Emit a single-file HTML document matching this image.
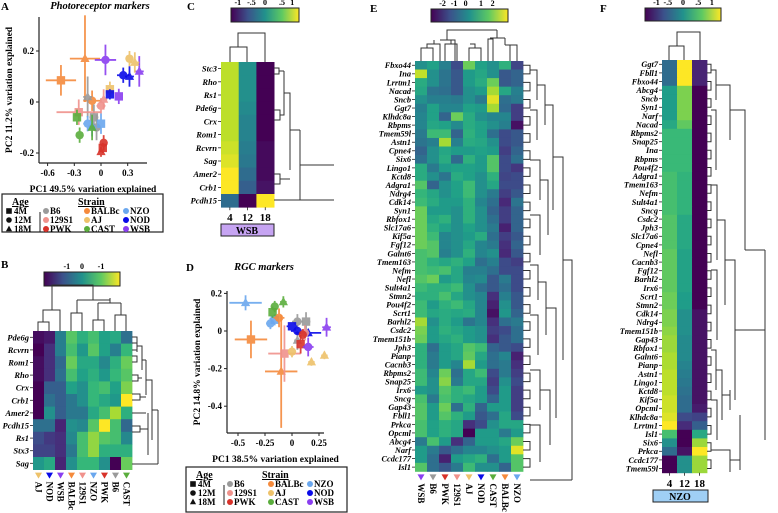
<!DOCTYPE html>
<html><head><meta charset="utf-8"><style>
html,body{margin:0;padding:0;background:#fff;}
svg{display:block;font-family:"Liberation Serif",serif;font-weight:bold;}
</style></head><body>
<svg id="fig" width="778" height="513" viewBox="0 0 778 513" xmlns="http://www.w3.org/2000/svg">
<defs>
<linearGradient id="vir" x1="0" x2="1" y1="0" y2="0">
<stop offset="0" stop-color="#440154"/><stop offset="0.25" stop-color="#3b528b"/><stop offset="0.5" stop-color="#21918c"/><stop offset="0.75" stop-color="#5ec962"/><stop offset="1" stop-color="#fde725"/>
</linearGradient>
</defs>
<g id="root"></g>
</svg>
<script>
// ---------- DATA ----------
const strainColors = {B6:'#9a9a9a','129S1':'#f0928c',PWK:'#d8322a',BALBc:'#f58a3c',AJ:'#eec26a',CAST:'#5aad3c',NZO:'#6aa7ee',NOD:'#0a0ae8',WSB:'#8a3ef0'};

// Panel A points
const aStrain = ['BALBc','BALBc','BALBc','WSB','WSB','WSB','AJ','AJ','AJ','NOD','NOD','NOD','B6','B6','B6','129S1','129S1','129S1','NZO','NZO','NZO','CAST','CAST','CAST','PWK','PWK','PWK'];
const aAge    = ['4M','18M','12M','12M','4M','18M','12M','18M','4M','12M','18M','4M','18M','4M','12M','4M','12M','18M','12M','4M','18M','4M','12M','18M','12M','18M','4M'];
const aPC1    = [-0.45,-0.18,-0.10,0.05,0.20,0.43,0.32,0.38,0.10,0.25,0.32,0.10,-0.15,-0.08,-0.05,-0.25,0.00,0.03,-0.15,0.00,-0.10,-0.27,-0.24,-0.10,0.03,0.00,0.02];
const aPC2    = [0.085,0.17,0.005,0.165,0.022,0.12,0.17,0.155,0.05,0.105,0.10,0.03,0.02,-0.06,-0.10,-0.04,-0.015,0.01,-0.085,-0.085,-0.095,-0.06,-0.13,-0.10,-0.16,-0.195,-0.18];
const aErrX   = [0.17,0.17,0.10,0.12,0.03,0.05,0.03,0.05,0.03,0.07,0.05,0.03,0.05,0.05,0.04,0.25,0.05,0.04,0.05,0.04,0.04,0.03,0.03,0.03,0.03,0.03,0.02];
const aErrY   = [0.06,0.17,0.04,0.06,0.03,0.06,0.03,0.04,0.03,0.03,0.04,0.02,0.08,0.05,0.05,0.05,0.03,0.04,0.03,0.04,0.04,0.03,0.03,0.05,0.03,0.02,0.02];
const aXTicks = [-0.6,-0.3,0,0.3];
const aYTicks = [-0.2,0,0.2];

// Panel D points
const dStrain = ['NZO','NZO','NZO','CAST','CAST','CAST','BALBc','BALBc','BALBc','B6','B6','B6','NOD','NOD','NOD','129S1','129S1','PWK','PWK','WSB','WSB','AJ','AJ','AJ'];
const dAge    = ['18M','12M','4M','18M','12M','4M','4M','18M','12M','12M','4M','18M','4M','12M','18M','4M','12M','4M','12M','12M','18M','12M','18M','18M'];
const dPC1    = [-0.43,-0.20,-0.16,-0.08,-0.16,-0.18,-0.38,-0.10,-0.12,0.05,0.13,0.05,0.00,0.05,0.15,-0.07,0.12,0.08,0.10,0.15,0.32,0.00,0.18,0.30];
const dPC2    = [0.15,0.04,0.06,0.155,0.13,0.10,-0.045,-0.215,0.07,0.05,0.05,-0.05,0.025,0.00,-0.01,-0.12,-0.01,-0.07,-0.02,-0.085,0.02,-0.11,-0.165,-0.13];
const dErrX   = [0.15,0.04,0.03,0.03,0.03,0.03,0.15,0.15,0.05,0.05,0.04,0.03,0.05,0.06,0.12,0.15,0.04,0.03,0.03,0.05,0.04,0.03,0.03,0.03];
const dErrY   = [0.04,0.03,0.03,0.03,0.03,0.03,0.10,0.30,0.05,0.04,0.05,0.05,0.02,0.02,0.02,0.15,0.04,0.05,0.03,0.05,0.05,0.03,0.02,0.02];
const dXTicks = [-0.5,-0.25,0,0.25];
const dXTickLabels = ['-0.5','-0.25','0','0.25'];
const dYTicks = [-0.4,-0.2,0,0.2];

// Panel B heatmap
const bCols = ['AJ','NOD','WSB','BALBc','129S1','NZO','PWK','B6','CAST'];
const bRows = ['Pde6g','Rcvrn','Rom1','Rho','Crx','Crb1','Amer2','Pcdh15','Rs1','Stx3','Sag'];
const bVals = [
[-1.4,-1.3,-0.2,0.7,0.4,0.6,0.2,0.3,-0.4],
[-1.5,-1.1,-0.2,0.6,0.1,0.7,0.2,-0.2,0.5],
[-1.4,-1.1,-0.5,0.8,0.3,0.3,-0.1,0.4,0.8],
[-1.4,-1.1,-0.4,0.6,0.2,0.4,0.1,0.5,0.7],
[-1.5,-0.6,-0.6,0.2,0,0.5,0.6,0.2,0.9],
[-1.5,-0.4,-0.6,-0.3,0,0.5,0.3,0.1,1.5],
[-1.5,0,-0.6,-0.3,-0.3,0.3,0.6,1.1,0.4],
[-0.4,-0.4,-1.2,0,-0.1,0.7,1.5,0.6,-0.5],
[-0.8,-1,-1.1,-0.1,0.6,1,0.7,0.6,-0.1],
[-0.9,-0.9,-1.1,-0.3,0.6,1,0.4,0.4,0.4],
[0.1,0.3,-1.2,0,0.5,0.5,0,-1.5,0.8]];

// Panel C heatmap
const cCols = ['4','12','18'];
const cRows = ['Stc3','Rho','Rs1','Pde6g','Crx','Rom1','Rcvrn','Sag','Amer2','Crb1','Pcdh15'];
const cVals = [[0.8,0,-1],[0.8,0,-1],[0.8,0,-1],[0.8,-0.05,-1],[0.8,-0.1,-1],[0.8,-0.1,-1],[0.85,-0.15,-0.95],[0.9,-0.2,-0.95],[1,-0.3,-0.95],[1,-0.4,-0.9],[-0.3,-1,1]];

// Panel E heatmap
const eCols = ['WSB','B6','PWK','129S1','AJ','NOD','CAST','BALBc','NZO'];
const eRows = ['Fbxo44','Ina','Lrrtm1','Nacad','Sncb','Ggt7','Klhdc8a','Rbpms','Tmem59l','Astn1','Cpne4','Six6','Lingo1','Kctd8','Adgra1','Ndrg4','Cdk14','Syn1','Rbfox1','Slc17a6','Kif5a','Fgf12','Galnt6','Tmem163','Nefm','Nefl','Sult4a1','Stmn2','Pou4f2','Scrt1','Barhl2','Csdc2','Tmem151b','Jph3','Pianp','Cacnb3','Rbpms2','Snap25','Irx6','Sncg','Gap43','Fbll1','Prkca','Opcml','Abcg4','Narf','Ccdc177','Isl1'];
const eVals = [
[0,0.3,-0.3,-1.2,1.2,0.3,0,0.6,-1.3],[1.8,0,-0.5,-1,0.2,0.4,0,-1,-0.8],[0.5,0,-0.5,-1,0.2,0.5,1.2,-1,-0.8],
[0.4,-0.5,-0.6,-1,0,0.2,1.6,0.4,-0.3],[0,-0.3,-0.3,-0.4,0,-0.4,2,-0.6,-0.4],[-0.3,0.3,-0.2,-0.2,0.3,0.2,1.6,-0.7,-1.4],
[-0.2,0.3,-0.8,1.2,0.5,0,-0.2,-0.2,-1.4],[-0.2,0.4,0.3,-0.1,0.5,0.3,0,-0.3,-2],[-0.4,0.8,0.8,-0.8,0.6,0.3,-0.6,-1.2,-1],
[-0.5,-0.3,1.6,-0.3,0.5,0.4,0,-1.2,-1],[-0.8,0,0.4,0.2,0.2,0.3,0.2,-1.4,-0.8],[-0.6,0,0.5,-0.7,0.6,0.2,1,-1.2,-0.6],
[0.5,-0.4,0.2,0.3,0.3,0.2,1,-1.2,-1.5],[0.5,0,-0.5,0.5,0.3,0,0.6,-1.3,-1.2],[1,-0.8,0,0.3,0.8,0,0.4,-1.2,-1.2],
[0.7,0.4,0,0.3,0.8,0,-0.4,-1.4,-1],[0.8,0.5,0.2,0.2,0.6,-0.2,-0.6,-1.7,-0.5],[1.2,0.2,0.2,0,0.6,0,-0.8,-1.4,-0.8],
[1.2,0.4,0.6,0,0.6,0,-0.6,-1.4,-0.8],[1.2,0.6,0.3,0,0.3,0,-0.4,-1.8,-0.8],[1.2,0.8,-0.2,0,0.2,0.5,-0.6,-1.4,-1],
[1.2,1,-0.2,0,0.4,-0.2,-0.4,-1.6,-0.8],[0.9,1,-0.3,0,0.6,-0.2,0,-1.7,-1],[0.9,0.6,0.4,0.6,0.3,-0.6,-0.3,-1.2,-1.4],
[0.9,0.8,0.9,0.4,-0.3,-0.3,-0.6,-1.2,-1.2],[1,1.2,0.2,0.4,-0.2,-0.1,-1,-0.4,-1.2],[0.8,0.6,0.6,0.8,0,-0.6,-1,-0.6,-1.2],
[0.6,0.6,0.9,0.4,0,-0.2,-1.6,-0.3,-1],[0.8,0.2,0.6,0.8,0.4,-0.2,-1.8,0,-1],[0.8,0.4,0.5,0.4,0.5,-0.2,-2,0.1,-0.8],
[1.6,0,0.5,0.2,-0.5,-0.2,-1.6,-0.6,-0.4],[1.3,0.2,0.6,0.4,0.2,0,-1.4,-1.2,-0.6],[1.2,0.2,0.4,0.6,0.2,0,-1.6,-1,-0.6],
[0.6,-0.6,0.2,0.4,1,0.8,-0.8,-1,-1.2],[0.6,-0.4,0.2,0.4,1.1,0.4,-0.6,-0.2,-1.8],[0.6,-0.4,0.2,-0.2,1.6,0.2,-0.6,-0.4,-1.6],
[0.8,-0.2,1.2,-0.6,0.4,0.8,-1.2,-0.4,-1.4],[0.8,0,1.4,-0.4,0.4,0.4,-1.4,0,-1.2],[0.2,0,1,0.6,0.8,0.2,-1.2,0.2,-1.4],
[0.9,-0.4,0.9,0.6,0.4,0.2,-0.8,0.2,-1.4],[1,0.2,1.2,-0.6,0.6,-0.8,0.2,0.2,-1.4],[1,0.2,1,0.6,0.2,-1,-0.6,0.4,-1.2],
[0.9,0.3,0.6,0.4,-1.6,-1.2,0,0.4,0.4],[0.9,0.3,0.6,0.4,-2.2,0.2,0.2,-0.4,0.2],[-0.4,0.9,0.2,-1.6,-0.8,0.2,0.2,0.4,1.2],
[0.2,-0.4,-1,-0.6,-0.2,-0.2,0,0.2,2],[0.2,-0.6,-1.8,0.2,0.4,0.6,-0.6,0.2,1],[1,-0.6,-1,-0.4,0.8,0,0,-0.8,1]];

// Panel F heatmap
const fCols = ['4','12','18'];
const fRows = ['Ggt7','Fbll1','Fbxo44','Abcg4','Sncb','Syn1','Narf','Nacad','Rbpms2','Snap25','Ina','Rbpms','Pou4f2','Adgra1','Tmem163','Nefm','Sult4a1','Sncg','Csdc2','Jph3','Slc17a6','Cpne4','Nefl','Cacnb3','Fgf12','Barhl2','Irx6','Scrt1','Stmn2','Cdk14','Ndrg4','Tmem151b','Gap43','Rbfox1','Galnt6','Pianp','Astn1','Lingo1','Kctd8','Kif5a','Opcml','Klhdc8a','Lrrtm1','Isl1','Six6','Prkca','Ccdc177','Tmem59l'];
const f4  = [-0.3,-0.3,-0.3,0.1,0.1,0.1,0.1,0.2,0.35,0.35,0.35,0.35,0.35,0.4,0.4,0.4,0.4,0.4,0.45,0.45,0.45,0.45,0.5,0.5,0.5,0.5,0.5,0.55,0.55,0.6,0.6,0.65,0.7,0.7,0.75,0.75,0.8,0.8,0.8,0.85,0.85,0.9,1.0,0.4,0,-0.3,-1,-1];
const f12 = [1,1,1,0.6,0.6,0.6,0.6,0.5,0.35,0.35,0.35,0.35,0.35,0.3,0.3,0.3,0.3,0.3,0.2,0.2,0.2,0.2,0.15,0.15,0.15,0.15,0.15,0.1,0.1,0,0,0,-0.05,-0.05,-0.05,-0.1,-0.15,-0.2,-0.25,-0.3,-0.3,-0.55,-0.75,-1,-1,-0.9,0,0];
const f18 = [-0.8,-0.8,-0.8,-1,-1,-1,-1,-1,-1,-1,-1,-1,-1,-1,-1,-1,-1,-1,-1,-1,-1,-1,-1,-1,-1,-1,-1,-1,-1,-0.9,-0.9,-0.9,-0.9,-0.9,-0.9,-0.9,-0.9,-0.9,-0.9,-0.9,-0.85,-0.6,-0.4,0.2,0.7,1,0.7,0.7];

// ---------- HELPERS ----------
const NS='http://www.w3.org/2000/svg';
const root=document.getElementById('root');
function mk(tag, attrs, parent){const e=document.createElementNS(NS,tag);for(const k in attrs)e.setAttribute(k,attrs[k]);(parent||root).appendChild(e);return e;}
const VIR=[[68,1,84],[72,40,120],[62,74,137],[49,104,142],[38,130,142],[31,158,137],[53,183,121],[110,206,88],[181,222,43],[253,231,37]];
function viridis(t){t=Math.max(0,Math.min(1,t));const p=t*(VIR.length-1);const i=Math.min(VIR.length-2,Math.floor(p));const f=p-i;const c=VIR[i].map((v,k)=>Math.round(v+(VIR[i+1][k]-v)*f));return `rgb(${c[0]},${c[1]},${c[2]})`;}
function txt(x,y,s,size,attrs,parent){const t=mk('text',Object.assign({x:x,y:y,'font-size':size},attrs||{}),parent);t.textContent=s;return t;}
function line(x1,y1,x2,y2,parent,w){return mk('line',{x1,y1,x2,y2,stroke:'#222','stroke-width':w||1},parent);}
function path(d,parent){return mk('path',{d:d,fill:'none',stroke:'#333','stroke-width':1},parent);}

function marker(g,shape,x,y,r,col){
  if(shape==='4M') return mk('rect',{x:x-r,y:y-r,width:2*r,height:2*r,fill:col},g);
  if(shape==='12M') return mk('circle',{cx:x,cy:y,r:r,fill:col},g);
  return mk('polygon',{points:`${x},${y-r*1.2} ${x-r*1.1},${y+r*0.8} ${x+r*1.1},${y+r*0.8}`,fill:col},g);
}

function scatterPanel(name,cfg){
  const g=mk('g',{});  
  const sx=v=>cfg.x0+v*cfg.kx, sy=v=>cfg.y0-v*cfg.ky;
  const ax=mk('g',{},g);  
  line(cfg.left,cfg.top,cfg.left,cfg.bottom,ax,1.2);
  line(cfg.left,cfg.bottom,cfg.right,cfg.bottom,ax,1.2);
  cfg.xt.forEach((v,i)=>{line(sx(v),cfg.bottom,sx(v),cfg.bottom+3,ax);
    const t=txt(sx(v),cfg.bottom+13,cfg.xl?cfg.xl[i]:String(v),9,{'text-anchor':'middle'},ax);
    });
  cfg.yt.forEach(v=>{line(cfg.left-3,sy(v),cfg.left,sy(v),ax);
    const t=txt(cfg.left-5,sy(v)+3,String(v),9,{'text-anchor':'end'},ax);
    });
  const xl=txt((cfg.left+cfg.right)/2,cfg.bottom+29,cfg.xlabel,9.5,{'text-anchor':'middle'},g);
  
  const yl=txt(0,0,cfg.ylabel,9.5,{'text-anchor':'middle',transform:`translate(${cfg.left-27},${(cfg.top+cfg.bottom)/2}) rotate(-90)`},g);
  
  const pts=mk('g',{},g);
  cfg.px.forEach((v,i)=>{
    const col=strainColors[cfg.st[i]];const x=sx(v),y=sy(cfg.py[i]);
    const pg=mk('g',{opacity:0.9},pts);
    
    
    mk('line',{x1:sx(v-cfg.ex[i]),x2:sx(v+cfg.ex[i]),y1:y,y2:y,stroke:col,'stroke-width':1.8},pg);
    mk('line',{x1:x,x2:x,y1:sy(cfg.py[i]-cfg.ey[i]),y2:sy(cfg.py[i]+cfg.ey[i]),stroke:col,'stroke-width':1.8},pg);
    marker(pg,cfg.ag[i],x,y,4.2,col);
  });
}

function legend(name,x,y,w,h){
  const g=mk('g',{});  
  mk('rect',{x:x,y:y,width:w,height:h,fill:'#fff',stroke:'#222','stroke-width':1.2},g);
  txt(x+10,y+11,'Age',10,{'text-decoration':'underline'},g);
  [['4M',20],['12M',29],['18M',38]].forEach(([a,dy])=>{marker(g,a,x+7,y+dy-3,2.8,'#111');txt(x+12,y+dy,a,9,{},g);});
  line(x+38,y+18,x+38,y+38,g,1);
  txt(x+76,y+11,'Strain',10,{'text-decoration':'underline'},g);
  const cols=[['B6','129S1','PWK'],['BALBc','AJ','CAST'],['NZO','NOD','WSB']];
  const cx=[x+44,x+85,x+124];
  cols.forEach((c,ci)=>c.forEach((s,ri)=>{const yy=y+20+ri*9;
    const e=mk('g',{},g);
    mk('circle',{cx:cx[ci],cy:yy-3,r:3,fill:strainColors[s]},e);txt(cx[ci]+4,yy,s,9,{},e);}));
}

function colorbar(name,x,y,w,h,ticks,tickLabels){
  const g=mk('g',{});  
  mk('rect',{x:x,y:y,width:w,height:h,fill:'url(#vir)',stroke:'#222','stroke-width':1},g);
  ticks.forEach((t,i)=>txt(x+t*w,y-3,tickLabels[i],8,{'text-anchor':'middle'},g));
}

function heatmap(name,cfg){
  const g=mk('g',{});  
  const cells=mk('g',{},g);
  cfg.vals.forEach((row,r)=>row.forEach((v,c)=>{
    const rc=mk('rect',{x:cfg.x0+c*cfg.cw,y:cfg.y0+r*cfg.rh,width:cfg.cw+0.4,height:cfg.rh+0.4,fill:viridis((v-cfg.vmin)/(cfg.vmax-cfg.vmin))},cells);
    
    
  }));
  cfg.rows.forEach((r,i)=>{const y=cfg.y0+(i+0.5)*cfg.rh;
    line(cfg.x0-3,y,cfg.x0,y,g,0.8);
    const t=txt(cfg.x0-4,y+cfg.fs*0.35,r,cfg.fs,{'text-anchor':'end','font-style':'italic'},g);
    });
  const yb=cfg.y0+cfg.rows.length*cfg.rh;
  cfg.cols.forEach((c,i)=>{const x=cfg.x0+(i+0.5)*cfg.cw;
    if(cfg.strainLabels){
      mk('polygon',{points:`${x-3.5},${yb+3} ${x+3.5},${yb+3} ${x},${yb+9}`,fill:strainColors[c]},g);
      const t=txt(0,0,c,9,{transform:`translate(${x-3},${yb+12}) rotate(90)`},g);
      
    } else {
      line(x,yb,x,yb+3,g,0.8);
      const t=txt(x,yb+14,c,11,{'text-anchor':'middle'},g);
      
    }
  });
}

// ---------- PANEL LETTERS / TITLES ----------
[['A',1,10],['B',1,268],['C',187,10],['D',186,271],['E',370,12],['F',600,12]].forEach(([l,x,y])=>{const t=txt(x,y,l,11,{},root);});
let tt=txt(100,9,'Photoreceptor markers',10.5,{'text-anchor':'middle','font-style':'italic'});
tt=txt(264,270,'RGC markers',10.5,{'text-anchor':'middle','font-style':'italic'});

// ---------- PANELS ----------
scatterPanel('panel-a-scatter',{x0:101,kx:89,y0:102,ky:255,left:39,right:147,top:17,bottom:163,xt:aXTicks,yt:aYTicks,
  xlabel:'PC1 49.5% variation explained',ylabel:'PC2 11.2% variation explained',px:aPC1,py:aPC2,ex:aErrX,ey:aErrY,st:aStrain,ag:aAge});
legend('panel-a-legend',2,194,161,38);
scatterPanel('panel-d-scatter',{x0:292,kx:108,y0:331,ky:188,left:227,right:324,top:291,bottom:433,xt:dXTicks,xl:dXTickLabels,yt:dYTicks,
  xlabel:'PC1 38.5% variation explained',ylabel:'PC2 14.8% variation explained',px:dPC1,py:dPC2,ex:dErrX,ey:dErrY,st:dStrain,ag:dAge});
legend('panel-d-legend',186,467,161,45);

colorbar('panel-b-colorbar',44,272,76,14,[0.3,0.5,0.75],['-1','0','-1']);
heatmap('panel-b-heatmap',{x0:33,y0:331,cw:11,rh:12.6,rows:bRows,cols:bCols,vals:bVals,vmin:-1.5,vmax:1.5,fs:8.5,strainLabels:true});
colorbar('panel-c-colorbar',231,8,68,14,[0.1,0.3,0.5,0.75,0.9],['-1','-.5','0','.5','1']);
heatmap('panel-c-heatmap',{x0:221,y0:62,cw:17.7,rh:13.2,rows:cRows,cols:cCols,vals:cVals,vmin:-1,vmax:1,fs:8.5,strainLabels:false});
colorbar('panel-e-colorbar',431,9,77,13,[0.15,0.3,0.45,0.65,0.8],['-2','-1','0','1','2']);
heatmap('panel-e-heatmap',{x0:415,y0:61,cw:12,rh:8.55,rows:eRows,cols:eCols,vals:eVals,vmin:-2.2,vmax:2.2,fs:8.3,strainLabels:true});
colorbar('panel-f-colorbar',645,8,76,13,[0.15,0.3,0.5,0.7,0.88],['-1','-.5','0','.5','1']);
const fVals=fRows.map((r,i)=>[f4[i],f12[i],f18[i]]);
heatmap('panel-f-heatmap',{x0:662,y0:60,cw:15,rh:8.6,rows:fRows,cols:fCols,vals:fVals,vmin:-1,vmax:1.0,fs:8.3,strainLabels:false});

// strain boxes
let sb=mk('rect',{x:221,y:224,width:53,height:12,fill:'#c6a4f2',stroke:'#222','stroke-width':1});
txt(247,234,'WSB',10,{'text-anchor':'middle'});
sb=mk('rect',{x:653,y:490,width:55,height:12,fill:'#9fcff5',stroke:'#222','stroke-width':1});
txt(680,500,'NZO',10,{'text-anchor':'middle'});

// ---------- DENDROGRAMS ----------
const dg=mk('g',{});
// C
path('M230,62V47H247V62 M238,47V33H265V62',dg);
path('M274,68H279V74H274 M279,71H284 M274,110H280V120H274 M280,115H284 M284,71V115H283 M284,93H290V170 M274,174H280V184H274 M280,179H290 M290,130H300 M300,130V200 M274,200H334 M300,165H334',dg);
// B
path('M38,331V322H49V331 M43,322V310H60V331 M71,331V313H82V331 M77,313V300 M93,331V320H104V331 M98,320V303 M115,331V315H126V331 M121,315V303 M98,303H121 M110,303V298 M77,300H110 M93,300V295 M52,310V285H93V295',dg);
path('M132,337H137V343H132 M132,350H137 M137,340V352 M132,356H137V362H132 M137,346H142V370 M132,375H138V381H132 M138,378H142 M142,360H146 M146,360V395 M132,394H140V400H132 M140,397H146 M132,413H146 M132,426H140V432H132 M140,429H148 M148,413V455 M146,380H152V440 M152,410H158 M132,464H158 M158,410V464',dg);
// E top
path('M421,61V48H433V61 M427,48V44H440V61 M434,44V40 M445,61V44H457V61 M451,44V40 M440,40H455V61 M469,61V48H481V61 M475,48V44H470 M488,61V39H493V61 M510,61V45H517V61 M505,45H513 M505,45V38 M490,38H505 M497,38V30 M447,40V30H497',dg);
// E right
let ed='';
for(let i=0;i<48;i+=2){const y1=61+(i+0.5)*8.55,y2=y1+8.55;ed+=`M523,${y1}H530V${y2}H523 `;}
ed+='M530,70H537V100 M530,110H537V140 M537,85H545V125 M530,160H540V200 M530,215H540V255 M540,180H548V235 M545,105H553V210 M530,265H538V300 M530,315H538V355 M538,282H546V335 M530,370H540V410 M530,425H540V462 M540,390H550V445 M546,308H556V418 M553,157H563V360 M563,260H572V480 M530,480H572';
path(ed,dg);
// F right
let fd='';
for(let i=0;i<48;i+=2){const y1=60+(i+0.5)*8.6,y2=y1+8.6;fd+=`M707,${y1}H711V${y2}H707 `;}
fd+='M711,70H716V100 M711,110H716V170 M716,85H730V140 M711,185H717V260 M711,270H717V340 M717,220H725V305 M725,260H735V400 M711,350H716V390 M711,400H717V440 M716,370H722V420 M722,395H730 M730,390V410 M711,450H730V472 M730,460H740 M740,415V470 M735,330H765 M730,110H745V250 M765,250V440 M745,250H765';
path(fd,dg);
// F top
path('M669,60V46H684V60 M677,46V32H700V60',dg);
</script>
</body></html>
